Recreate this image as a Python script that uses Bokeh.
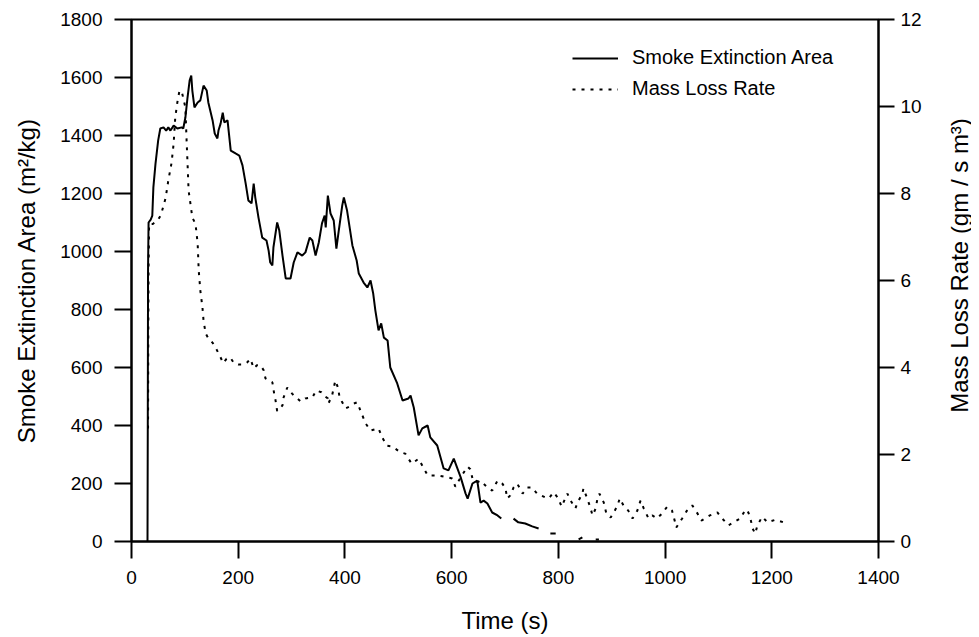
import math
from bokeh.plotting import figure
from bokeh.layouts import row
from bokeh.models import Range1d, LinearAxis, Legend, LegendItem, SingleIntervalTicker, Label
from bokeh.embed import file_html
from bokeh.resources import INLINE

nan = float("nan")

# Smoke extinction area (m2/kg) vs time (s); NaN = gap in trace
smoke_t = [30, 30.5, 31, 32, 36, 39, 41, 45, 50, 54, 60, 65, 69, 73, 79, 86, 94, 97, 101, 105,
           109, 112, 114, 118, 124, 129, 135, 141, 144, 152, 156, 161, 163, 167, 171, 174, 180,
           186, 195, 202, 208, 214, 219, 225, 229, 232, 238, 245, 253, 257, 260, 264, 266, 273,
           277, 283, 289, 298, 304, 311, 320, 326, 334, 339, 345, 351, 357, 362, 364, 368, 373,
           379, 384, 388, 395, 398, 404, 414, 422, 426, 435, 442, 448, 453, 457, 463, 468, 473,
           480, 485, 498, 508, 519, 523, 529, 538, 545, 555, 560, 573, 585, 594, 604, 617, 626,
           630, 639, 648, 654, 660, 667, 676, 686, 693, nan, 716, 725, 738, 751, 763, nan,
           785, 795, nan, 838, 845, nan, 870, 876]
smoke_v = [0, 390, 940, 1100, 1110, 1124, 1221, 1303, 1383, 1424, 1428, 1417, 1428, 1417, 1434,
           1424, 1428, 1424, 1462, 1531, 1590, 1607, 1555, 1497, 1514, 1521, 1572, 1555, 1514,
           1452, 1407, 1390, 1417, 1441, 1479, 1445, 1452, 1348, 1338, 1331, 1297, 1234, 1176,
           1166, 1234, 1186, 1117, 1048, 1038, 1003, 962, 952, 1014, 1100, 1072, 986, 907, 907,
           962, 997, 986, 997, 1048, 1038, 986, 1031, 1097, 1124, 1083, 1193, 1131, 1107, 1010,
           1066, 1159, 1186, 1141, 1021, 969, 924, 893, 876, 900, 855, 797, 728, 752, 703, 693,
           600, 545, 486, 493, 503, 462, 366, 390, 400, 359, 331, 252, 245, 286, 221, 166, 148,
           200, 210, 134, 141, 131, 100, 90, 79, nan, 79, 66, 62, 52, 45, nan, 28, 28, nan, 7,
           14, nan, 7, 7]

# Mass loss rate (gm / s m3) vs time (s)
mass_t = [31, 31.5, 32, 33, 40, 45, 50, 55, 60, 64, 69, 75, 79, 82, 86, 90, 95, 101, 103, 105,
          107, 114, 120, 124, 126, 129, 133, 135, 139, 145, 152, 160, 167, 172, 178, 185, 192,
          200, 210, 217, 223, 229, 235, 242, 248, 251, 258, 264, 267, 270, 273, 278, 283, 285,
          292, 301, 304, 310, 317, 326, 339, 346, 356, 360, 368, 369, 376, 382, 387, 390, 395,
          401, 408, 416, 423, 429, 439, 448, 463, 470, 479, 489, 504, 513, 525, 538, 547, 555,
          573, 590, 601, 607, 618, 630, 635, 639, 648, 654, 663, 676, 686, 695, 701, 704, 710,
          716, 723, 733, 742, 751, 760, 776, 782, 791, 800, 806, 817, 823, 832, 836, 845, 847,
          854, 860, 864, 870, 873, 877, 885, 890, 898, 904, 911, 915, 922, 931, 939, 948, 954,
          960, 969, 976, 985, 994, 1004, 1013, 1018, 1021, 1032, 1041, 1051, 1061, 1068, 1084,
          1098, 1107, 1119, 1128, 1141, 1151, 1156, 1160, 1164, 1169, 1173, 1182, 1192, 1207,
          1222]
mass_v = [2.6, 4.9, 6.3, 7.3, 7.3, 7.35, 7.4, 7.5, 7.72, 7.9, 8.3, 8.7, 9.15, 9.75, 10.1, 10.37,
          10.3, 9.98, 9.3, 8.7, 8.07, 7.45, 7.3, 6.85, 6.23, 5.77, 5.38, 5.08, 4.78, 4.65, 4.57,
          4.4, 4.23, 4.1, 4.2, 4.23, 4.1, 4.07, 4.07, 4.12, 4.2, 3.98, 4.05, 4.05, 3.93, 3.75,
          3.7, 3.66, 3.43, 3.24, 3.0, 3.05, 3.13, 3.31, 3.54, 3.4, 3.36, 3.3, 3.22, 3.29, 3.31,
          3.47, 3.43, 3.36, 3.29, 3.17, 3.36, 3.7, 3.54, 3.31, 3.2, 3.06, 3.1, 3.17, 3.2, 3.01,
          2.71, 2.55, 2.6, 2.39, 2.2, 2.18, 2.05, 2.02, 1.79, 1.9, 1.7, 1.52, 1.52, 1.48, 1.45,
          1.26, 1.5, 1.72, 1.66, 1.45, 1.36, 1.4, 1.29, 1.17, 1.4, 1.33, 1.22, 0.99, 1.06, 1.24,
          1.33, 1.1, 1.24, 1.24, 1.1, 1.01, 0.99, 1.13, 0.99, 0.8, 1.1, 0.94, 0.76, 0.9, 1.1,
          1.22, 0.99, 0.78, 0.6, 0.76, 0.97, 1.1, 0.9, 0.64, 0.55, 0.67, 0.83, 0.99, 0.83, 0.71,
          0.53, 0.71, 0.94, 0.76, 0.53, 0.6, 0.53, 0.64, 0.8, 0.71, 0.48, 0.32, 0.53, 0.71, 0.83,
          0.64, 0.48, 0.6, 0.67, 0.53, 0.37, 0.44, 0.53, 0.74, 0.67, 0.53, 0.3, 0.18, 0.37, 0.57,
          0.44, 0.5, 0.44]

x_title = "Time (s)"
y_title = "Smoke Extinction Area (m\u00b2/kg)"
y2_title = "Mass Loss Rate (gm / s m\u00b3)"
labels = ["Smoke Extinction Area", "Mass Loss Rate"]

FONT = "Liberation Sans"
FW, FH = 747, 522
LB, RB, TB, BB = 131, 68, 19, 88
TOTAL_H = TB + FH + BB

p = figure(frame_width=FW, frame_height=FH, output_backend="svg", toolbar_location=None,
           x_range=Range1d(0, 1400), y_range=Range1d(0, 1800),
           min_border_left=LB, min_border_right=RB, min_border_top=TB, min_border_bottom=BB)
p.extra_y_ranges = {"mass": Range1d(0, 12)}
p.grid.visible = False
p.background_fill_color = "white"
p.border_fill_color = "white"
p.outline_line_color = "black"
p.outline_line_width = 2

r1 = p.line(smoke_t, smoke_v, line_color="black", line_width=2)
r2 = p.line(mass_t, mass_v, line_color="black", line_width=2, line_dash="3 6",
            y_range_name="mass")

right = LinearAxis(y_range_name="mass")
p.add_layout(right, "right")

def style(ax, ticker, tick_out, standoff, title, title_standoff):
    ax.ticker = ticker
    ax.minor_tick_line_color = None
    ax.major_tick_in = 0
    ax.major_tick_out = tick_out
    ax.major_tick_line_width = 2
    ax.major_tick_line_color = "black"
    ax.axis_line_width = 2
    ax.axis_line_color = "black"
    ax.major_label_text_font = FONT
    ax.major_label_text_font_size = "19px"
    ax.major_label_text_color = "black"
    ax.major_label_standoff = standoff
    ax.axis_label = title
    ax.axis_label_text_font = FONT
    ax.axis_label_text_font_size = "24px"
    ax.axis_label_text_font_style = "normal"
    ax.axis_label_text_color = "black"
    ax.axis_label_standoff = title_standoff

style(p.xaxis[0], SingleIntervalTicker(interval=200), 17, 12, x_title, 20)
style(p.yaxis[0], SingleIntervalTicker(interval=200), 17, 12, y_title, 17)
style(right, SingleIntervalTicker(interval=2), 16, 6, None, 0)

legend = Legend(items=[LegendItem(label=labels[0], renderers=[r1]),
                       LegendItem(label=labels[1], renderers=[r2])],
                location=(441, FH - 81))
legend.border_line_alpha = 0
legend.background_fill_alpha = 0
legend.padding = 0
legend.margin = 0
legend.glyph_width = 46
legend.glyph_height = 20
legend.label_height = 20
legend.label_standoff = 14
legend.spacing = 8
legend.label_text_font = FONT
legend.label_text_font_size = "20px"
legend.label_text_color = "black"
p.add_layout(legend, "center")

# narrow strip holding the right-hand axis title, reading bottom-to-top
TW = 25
t = figure(width=TW, height=TOTAL_H, output_backend="svg", toolbar_location=None,
           x_axis_location=None, y_axis_location=None,
           x_range=Range1d(0, 1), y_range=Range1d(0, 1),
           min_border_left=0, min_border_right=0, min_border_top=0, min_border_bottom=0)
t.grid.visible = False
t.outline_line_color = None
t.background_fill_color = "white"
t.border_fill_color = "white"
t.add_layout(Label(x=TW / 2, y=269, x_units="screen", y_units="screen",
                   text=y2_title, angle=math.pi / 2, text_align="center",
                   text_baseline="middle", text_font=FONT, text_font_size="24px",
                   text_color="black"))

layout = row(p, t)
open("out.html", "w").write(file_html(layout, INLINE))
